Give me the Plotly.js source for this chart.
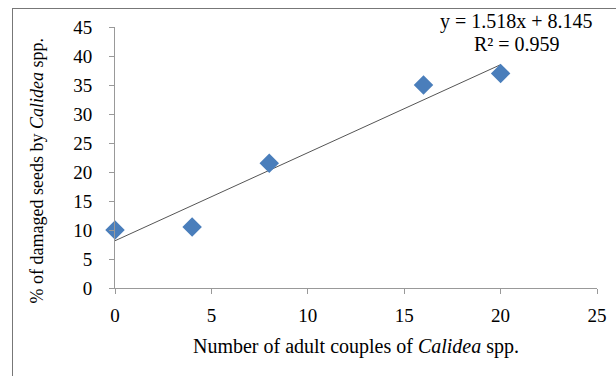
<!DOCTYPE html>
<html>
<head>
<meta charset="utf-8">
<script src="https://cdn.plot.ly/plotly-3.0.1.min.js"></script>
<style>
html,body{margin:0;padding:0;background:#fff;}
#wrap{position:relative;width:616px;height:376px;overflow:hidden;}
#frame{position:absolute;left:12px;top:8px;width:700px;height:500px;border-left:1.5px solid #777;border-top:1.5px solid #777;pointer-events:none;}
#chart{position:absolute;left:0;top:0;width:616px;height:376px;}
</style>
</head>
<body>
<div id="wrap">
<div id="chart"></div>
<div id="frame"></div>
</div>
<script>
const couples = [0, 4, 8, 16, 20];
const damaged = [10, 10.5, 21.5, 35, 37];
const slope = 1.518;
const intercept = 8.145;
const r2 = 0.959;
const xTicks = [0, 5, 10, 15, 20, 25];
const yTicks = [0, 5, 10, 15, 20, 25, 30, 35, 40, 45];
const xTitle = 'Number of adult couples of <i>Calidea</i> spp.';
const yTitle = '% of damaged seeds by <i>Calidea</i> spp.';

const xMin = Math.min(...couples), xMax = Math.max(...couples);
const trendX = [xMin, xMax];
const trendY = trendX.map(v => slope * v + intercept);

const font = {family: 'Liberation Serif', size: 19, color: '#000'};
const titleFontX = {family: 'Liberation Serif', size: 20, color: '#000'};
const titleFontY = {family: 'Liberation Serif', size: 18, color: '#000'};

const traces = [
  {x: trendX, y: trendY, mode: 'lines', line: {color: '#555', width: 1}, hoverinfo: 'skip', showlegend: false, cliponaxis: false},
  {x: couples, y: damaged, mode: 'markers', marker: {symbol: 'diamond', size: 15, color: '#4A7EBB'}, showlegend: false, cliponaxis: false}
];

const layout = {
  width: 616, height: 376,
  margin: {l: 115, r: 19, t: 27, b: 88},
  paper_bgcolor: '#fff', plot_bgcolor: '#fff',
  font: font,
  showlegend: false,
  xaxis: {
    range: [0, 25], tickvals: xTicks, ticktext: xTicks.map(String),
    showgrid: false, zeroline: false, showline: true, linecolor: '#999', linewidth: 1,
    ticks: 'outside', ticklen: 5, tickcolor: '#999', ticklabelstandoff: 5,
    tickfont: font,
    title: {text: xTitle, font: titleFontX, standoff: 14}
  },
  yaxis: {
    range: [0, 45], tickvals: yTicks, ticktext: yTicks.map(String),
    showgrid: false, zeroline: false, showline: true, linecolor: '#999', linewidth: 1,
    ticks: 'outside', ticklen: 5, tickcolor: '#999', ticklabelstandoff: 13,
    tickfont: font
  },
  annotations: [
    {x: -0.161, y: 0.448, xref: 'paper', yref: 'paper', xanchor: 'center', yanchor: 'middle', textangle: -90, text: yTitle, showarrow: false, font: titleFontY},
    {x: 0.833, y: 1.020, xref: 'paper', yref: 'paper', xanchor: 'center', yanchor: 'middle', text: 'y = ' + slope.toFixed(3) + 'x + ' + intercept.toFixed(3), showarrow: false, font: titleFontX},
    {x: 0.833, y: 0.934, xref: 'paper', yref: 'paper', xanchor: 'center', yanchor: 'middle', text: 'R² = ' + r2.toFixed(3), showarrow: false, font: titleFontX}
  ]
};

Plotly.newPlot('chart', traces, layout, {staticPlot: true, displayModeBar: false});
</script>
</body>
</html>
